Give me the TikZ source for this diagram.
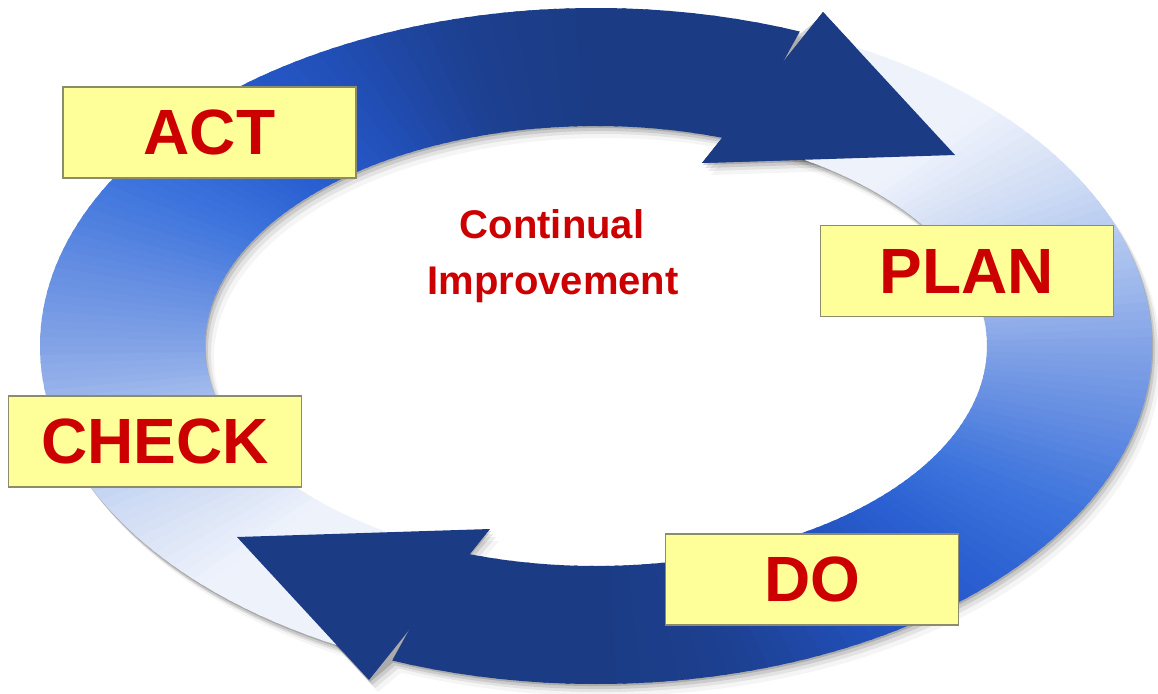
\documentclass[tikz,border=0pt]{standalone}
\usepackage{fontspec}
\setmainfont{Liberation Sans}
\usetikzlibrary{calc}
\definecolor{navy}{RGB}{27,60,133}
\definecolor{sa}{RGB}{238,242,251}
\definecolor{sb}{RGB}{207,220,244}
\definecolor{sc}{RGB}{170,193,238}
\definecolor{sd}{RGB}{130,163,230}
\definecolor{se}{RGB}{98,140,226}
\definecolor{sf}{RGB}{61,116,220}
\definecolor{sg}{RGB}{42,95,210}
\definecolor{sh}{RGB}{34,80,185}
\definecolor{si}{RGB}{29,64,145}
\definecolor{boxfill}{RGB}{255,255,153}
\definecolor{boxborder}{RGB}{140,140,106}
\definecolor{textred}{RGB}{204,0,0}
\tikzset{
  arrowA/.style={insert path={(361.03,652.33) arc[start angle=115,end angle=291.5,x radius=556,y radius=338] -- (823,12) -- (955,155) -- (702,163) -- (723.30,137.99) arc[start angle=289,end angle=115,x radius=391,y radius=220] -- cycle}},
  headA/.style={insert path={(823,12) -- (955,155) -- (702,163) -- cycle}},
  shadowA/.style={fill=black,draw=none,opacity=#1},
  lbl/.style={draw=boxborder,line width=1.3pt,fill=boxfill,minimum width=293,minimum height=91,inner sep=0pt,text=textred,font=\fontsize{64}{70}\selectfont\bfseries},
  cont/.style={anchor=base,text=textred,font=\fontsize{40}{56}\selectfont\bfseries}
}
\newcommand\ringbody{%
  \foreach \ta/\tb/\ca/\cb in {115/135/sa/sa,135/150/sa/sb,150/165/sb/sc,165/180/sc/sd,180/195/sd/se,195/210/se/sf,210/225/sf/sg,225/240/sg/sh,240/255/sh/si,255/268/si/navy,268/291.5/navy/navy}{
    \foreach \k in {0,...,9}{
      \pgfmathsetmacro\s{\ta+(\tb-\ta)*\k/10}
      \pgfmathsetmacro\e{min(\ta+(\tb-\ta)*(\k+1)/10+0.5,291.5)}
      \pgfmathsetmacro\p{5+\k*10}
      \fill[\cb!\p!\ca] (596,346) ++(\s:556 and 338) arc[start angle=\s,end angle=\e,x radius=556,y radius=338]
        -- ($(596,346)+(\e:391 and 220)$) arc[start angle=\e,end angle=\s,x radius=391,y radius=220] -- cycle;
    }
  }%
}
\begin{document}
\begin{tikzpicture}[x=1pt,y=-1pt]
\useasboundingbox (0,0) rectangle (1158,693);
\fill[white] (0,0) rectangle (1158,693);
% shadows
\foreach \dx/\dy/\op in {1/2/0.16,3/5/0.10,6/8/0.07,9/12/0.04}{
  \fill[shift={(\dx,\dy)},shadowA=\op,arrowA];
  \begin{scope}[rotate around={180:(596,346)}]
    \fill[shift={(-\dx,-\dy)},shadowA=\op,arrowA];
  \end{scope}
}
% top arrow (A)
\ringbody
\fill[navy,headA];
% bottom arrow (B)
\begin{scope}[rotate around={180:(596,346)}]
  \ringbody
  \fill[navy,headA];
\end{scope}
% head of A over the tail of B
\fill[navy,headA];
% labels
\node[lbl] (act) at (209.5,132.5) {ACT};
\node[lbl] (check) at (155,441.5) {CHECK};
\node[lbl] (plan) at (967,271) {PLAN};
\node[lbl] (do) at (812,579.5) {DO};
\node[cont] (ci1) at (552,238) {Continual};
\node[cont] (ci2) at (553,294) {Improvement};
\end{tikzpicture}
\end{document}
